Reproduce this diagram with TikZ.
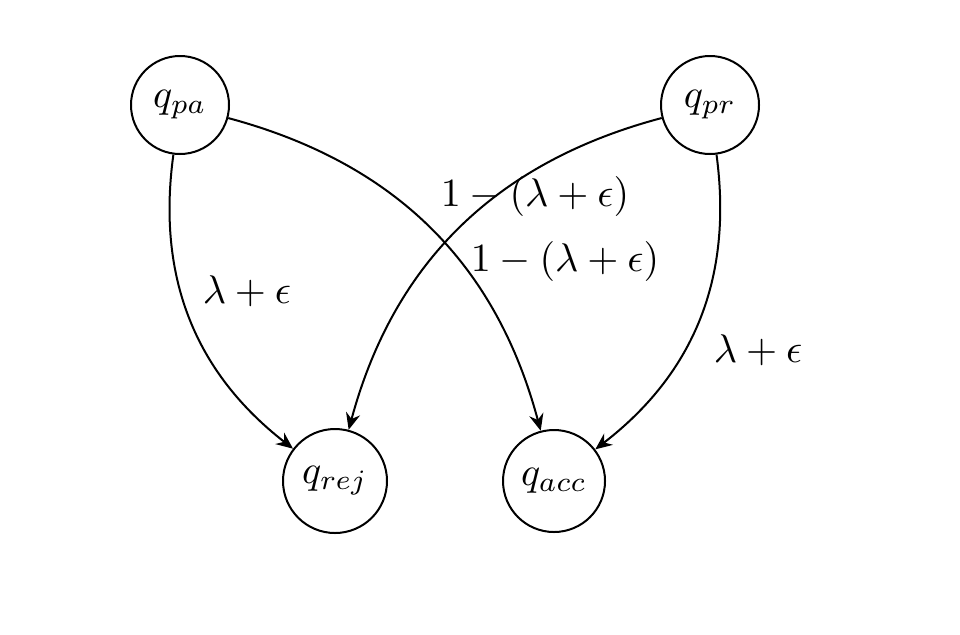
\documentclass[tikz,border=0pt]{standalone}
\usetikzlibrary{arrows.meta}
\begin{document}
\begin{tikzpicture}[x=0.25pt,y=0.25pt,
  state/.style={draw,circle,line width=0.5pt,inner sep=0pt},
  edge/.style={line width=0.5pt,-{Stealth[length=4.2pt,width=3.6pt,inset=1.4pt]}},
  lab/.style={inner sep=0pt}]
\useasboundingbox (0,0) rectangle (960,634);
\node[state,minimum size=24.5pt] (pa) at (180,529) {$q_{pa}$};
\node[state,minimum size=24.5pt] (pr) at (710,529) {$q_{pr}$};
\node[state,minimum size=26pt] (rej) at (335,153) {$q_{rej}$};
\node[state,minimum size=25.5pt] (acc) at (554,153) {$q_{acc}$};
\draw[edge] (pa) to[bend right=30] (rej);
\draw[edge] (pa) to[bend left=30] (acc);
\draw[edge] (pr) to[bend right=30] (rej);
\draw[edge] (pr) to[bend left=30] (acc);
\node[lab] (l1) at (247,343) {$\lambda+\epsilon$};
\node[lab] (l2) at (535,438) {$1-(\lambda+\epsilon)$};
\node[lab] (l3) at (565,373) {$1-(\lambda+\epsilon)$};
\node[lab] (l4) at (758,284) {$\lambda+\epsilon$};
\end{tikzpicture}
\end{document}
